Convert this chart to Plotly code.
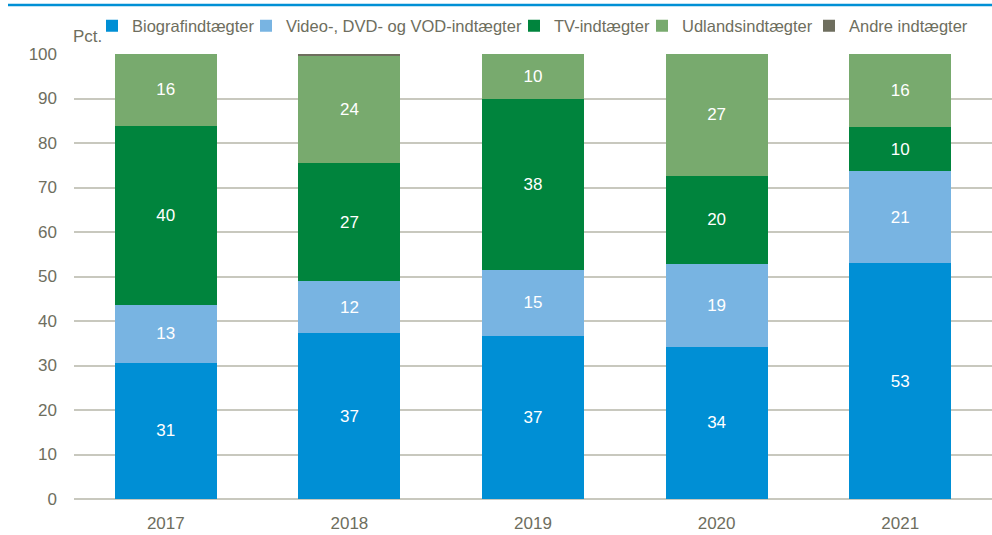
import plotly.graph_objects as go

years = ["2017", "2018", "2019", "2020", "2021"]
biograf = [30.6, 37.3, 36.7, 34.2, 53.0]
video = [13.1, 11.6, 14.8, 18.6, 20.7]
tv = [40.2, 26.6, 38.4, 19.8, 9.9]
udland = [16.1, 24.1, 10.1, 27.4, 16.4]
andre = [0.0, 0.4, 0.0, 0.0, 0.0]

series = [
    ("Biografindtægter", biograf, "#008FD5", True),
    ("Video-, DVD- og VOD-indtægter", video, "#78B4E2", True),
    ("TV-indtægter", tv, "#00843D", True),
    ("Udlandsindtægter", udland, "#78AA6E", True),
    ("Andre indtægter", andre, "#6E6E5E", False),
]
# legend text start (px) for each entry, layout only
legend_text_x = [132, 286, 554, 682, 849]

FONT = "Liberation Sans, Arial, sans-serif"
GREY = "#6E6E5E"
W, H = 992, 535

fig = go.Figure()
layout_legends = {}
for i, (name, vals, color, lab) in enumerate(series):
    lid = "legend" if i == 0 else f"legend{i+1}"
    fig.add_trace(go.Bar(
        name=name, x=years, y=vals, legend=lid,
        marker=dict(color=color, line=dict(width=0)),
        texttemplate="%{y:.0f}" if lab else "",
        textposition="inside" if lab else "none",
        insidetextanchor="middle",
        textfont=dict(color="white", size=17, family=FONT),
        hoverinfo="skip",
    ))
    layout_legends[lid] = dict(
        orientation="h", xref="container", yref="container",
        x=(legend_text_x[i] - 40) / W, xanchor="left",
        y=1 - 26 / H, yanchor="middle",
        font=dict(size=16.5, color=GREY, family=FONT),
        itemwidth=30, bgcolor="rgba(0,0,0,0)", borderwidth=0,
    )

fig.update_layout(
    barmode="stack",
    bargap=0.445,
    width=W, height=H,
    margin=dict(l=74, r=0, t=54, b=36, autoexpand=False),
    plot_bgcolor="white", paper_bgcolor="white",
    font=dict(family=FONT, color=GREY, size=17),
    uniformtext=dict(mode="show", minsize=17),
    showlegend=True,
    xaxis=dict(showline=False, ticks="", ticklabelstandoff=12,
               tickfont=dict(size=17, color=GREY)),
    yaxis=dict(
        range=[0, 100], dtick=10, showgrid=True, gridcolor="#C8C8BE", gridwidth=1.5,
        zeroline=True, zerolinecolor="#C8C8BE", zerolinewidth=1.5,
        ticks="", ticklabelstandoff=16, tickfont=dict(size=17, color=GREY),
        fixedrange=True,
    ),
    **layout_legends,
)

fig.add_annotation(text="Pct.", xref="paper", yref="paper", x=-3/918, y=1 + 6/445,
                   xanchor="left", yanchor="bottom", showarrow=False,
                   font=dict(size=17, color=GREY, family=FONT))

fig.add_shape(type="line", xref="paper", yref="paper",
              x0=-66/918, x1=1.0, y0=1 + 49/445, y1=1 + 49/445,
              line=dict(color="#0090D5", width=2.5))

fig.write_html("out.html")
